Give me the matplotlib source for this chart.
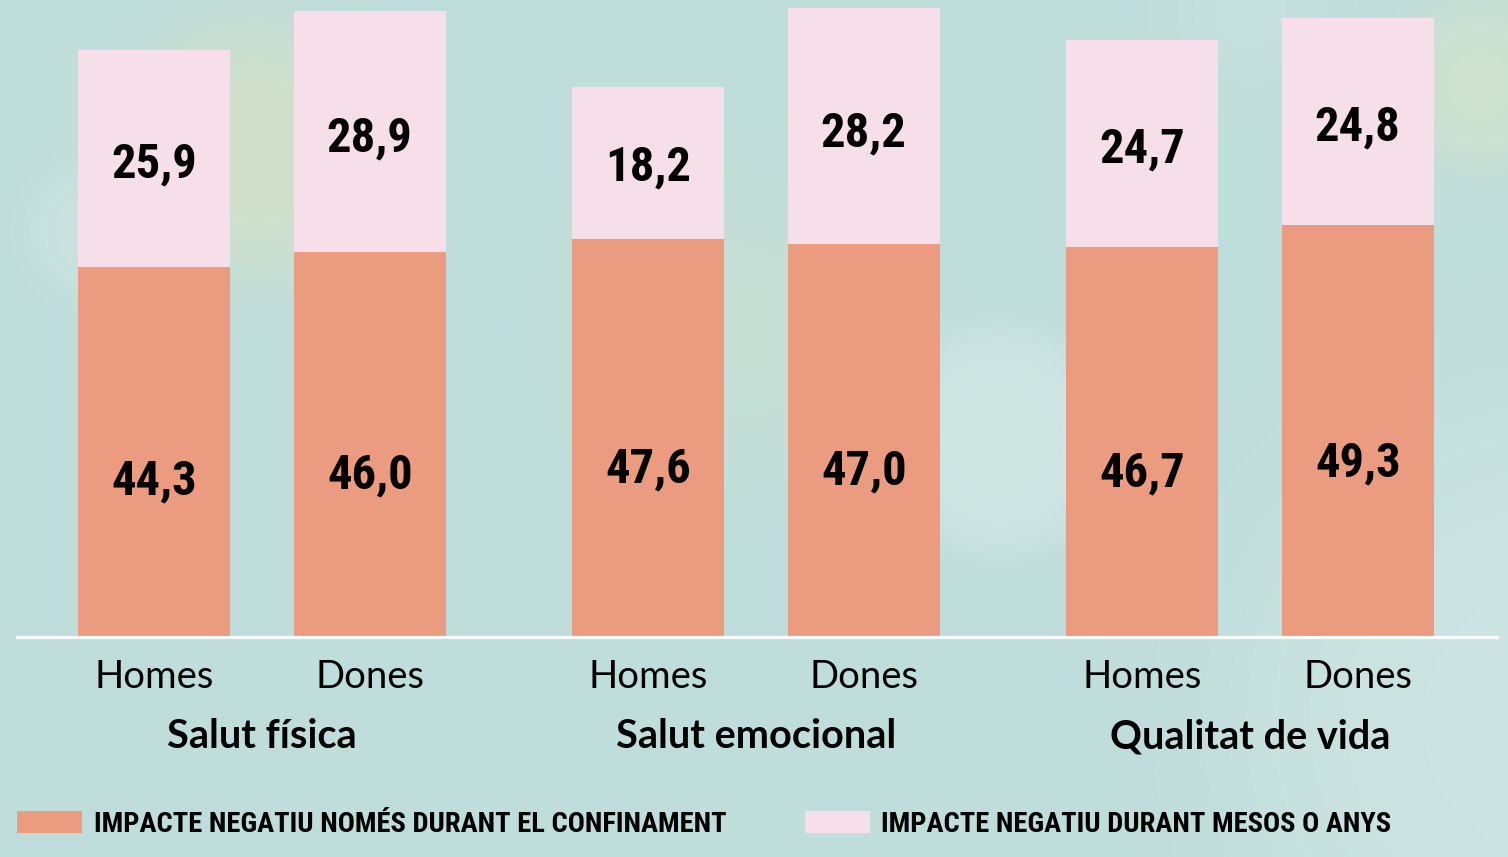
import numpy as np
import matplotlib.pyplot as plt
from matplotlib.transforms import blended_transform_factory

# data
groups = ["Salut física", "Salut emocional", "Qualitat de vida"]
sexes = ["Homes", "Dones"]
confinament = [[44.3, 46.0], [47.6, 47.0], [46.7, 49.3]]
mesos_anys = [[25.9, 28.9], [18.2, 28.2], [24.7, 24.8]]
series_names = ["IMPACTE NEGATIU NOMÉS DURANT EL CONFINAMENT",
                "IMPACTE NEGATIU DURANT MESOS O ANYS"]

C_CONF = "#eb9b80"
C_MESOS = "#f6dfe9"
BG = np.array([191, 221, 219]) / 255

W, H = 1508, 857
fig = plt.figure(figsize=(W / 100, H / 100), dpi=100)

# soft background blobs
bg = fig.add_axes([0, 0, 1, 1])
bg.set_axis_off()
Y, X = np.mgrid[0:H, 0:W]
img = np.ones((H, W, 3)) * BG
blobs = [
    (255, 150, 115, (212, 225, 200), 0.9, 25),
    (95, 230, 60, (208, 230, 226), 0.7, 15),
    (735, 330, 140, (205, 226, 208), 0.5, 40),
    (1000, 440, 110, (208, 230, 227), 0.9, 12),
    (1480, 85, 75, (212, 228, 204), 0.8, 20),
    (1560, 720, 300, (208, 230, 227), 0.8, 60),
    (1250, 10, 80, (205, 228, 224), 0.5, 25),
]
for cx, cy, r, col, s, soft in blobs:
    d = np.sqrt((X - cx) ** 2 + (Y - cy) ** 2)
    a = s / (1 + np.exp((d - r) / soft))
    img = img * (1 - a[..., None]) + (np.array(col) / 255) * a[..., None]
bg.imshow(img, extent=(0, 1, 0, 1), aspect="auto")
bg.set_xlim(0, 1)
bg.set_ylim(0, 1)

ax = fig.add_axes([0, (H - 637) / H, 1, 637 / H])
ax.patch.set_alpha(0)
for sp in ax.spines.values():
    sp.set_visible(False)

COND = ["Roboto Condensed", "DejaVu Sans"]
offset = 0.218
width = 0.308
centers = np.arange(len(groups))
num_font = dict(family=COND, fontstretch="condensed",
                weight="bold", fontsize=35)

xpos, xlabels = [], []
for j, sex in enumerate(sexes):
    x = centers + (j - 0.5) * 2 * offset
    c = np.array([v[j] for v in confinament])
    m = np.array([v[j] for v in mesos_anys])
    ax.bar(x, c, width, color=C_CONF, label=series_names[0] if j == 0 else None)
    ax.bar(x, m, width, bottom=c, color=C_MESOS,
           label=series_names[1] if j == 0 else None)
    for xi, ci, mi in zip(x, c, m):
        ax.text(xi, ci * 0.42, f"{ci:.1f}".replace(".", ","),
                ha="center", va="center", **num_font)
        ax.text(xi, ci + mi * 0.47, f"{mi:.1f}".replace(".", ","),
                ha="center", va="center", **num_font)
    xpos += list(x)
    xlabels += [sex] * len(groups)

ax.set_xlim((0 - 262) / 494, (W - 262) / 494)
ax.set_ylim(0, 637 / 8.36)
ax.set_yticks([])
ax.set_xticks(xpos, xlabels, fontsize=27.5, family=["Lato", "DejaVu Sans"])
ax.tick_params(axis="x", length=0, pad=15.5)
ax.axhline(0, xmin=17 / W, xmax=1497 / W, color="white", lw=2.3, zorder=3,
           clip_on=False)

trans = blended_transform_factory(ax.transData, ax.transAxes)
for ci, g in zip(centers, groups):
    ax.text(ci, -100 / 637, g, transform=trans, ha="center", va="center",
            fontsize=28.5, fontweight="bold", family=["Lato", "DejaVu Sans"])

handles, labels = ax.get_legend_handles_labels()
fig.legend(handles, labels, loc="center left",
           bbox_to_anchor=(17 / W, 1 - 824 / H), ncol=2, frameon=False,
           borderpad=0, borderaxespad=0, handlelength=2.3, handleheight=0.81,
           handletextpad=0.39, columnspacing=2.75,
           prop=dict(family=COND, stretch="condensed",
                     weight="bold", size=20.5))

fig.savefig("out.png", dpi=100)
